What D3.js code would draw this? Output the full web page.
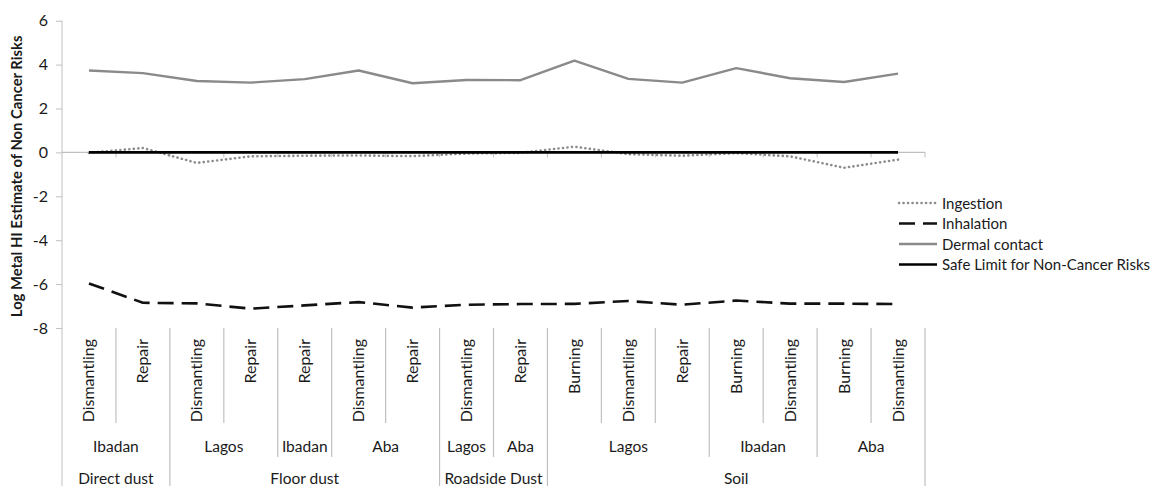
<!DOCTYPE html>
<html>
<head>
<meta charset="utf-8">
<script src="https://cdn.jsdelivr.net/npm/d3@7"></script>
<style>
  html, body { margin: 0; padding: 0; background: #fff; }
  svg { display: block; font-family: Lato, "Open Sans", sans-serif; }
</style>
</head>
<body>
<svg id="chart" width="1150" height="486"></svg>
<script>
// Category hierarchy: medium > city > activity
const activities = ["Dismantling","Repair","Dismantling","Repair","Repair","Dismantling","Repair","Dismantling","Repair","Burning","Dismantling","Repair","Burning","Dismantling","Burning","Dismantling"];
const cities = ["Ibadan","Ibadan","Lagos","Lagos","Ibadan","Aba","Aba","Lagos","Aba","Lagos","Lagos","Lagos","Ibadan","Ibadan","Aba","Aba"];
const media = ["Direct dust","Direct dust","Floor dust","Floor dust","Floor dust","Floor dust","Floor dust","Roadside Dust","Roadside Dust","Soil","Soil","Soil","Soil","Soil","Soil","Soil"];

// Log HI values per exposure route
const ingestion  = [-0.02, 0.20, -0.48, -0.18, -0.15, -0.14, -0.17, -0.05, -0.02, 0.26, -0.08, -0.15, -0.03, -0.18, -0.70, -0.33];
const inhalation = [-5.97, -6.85, -6.88, -7.12, -6.97, -6.82, -7.07, -6.94, -6.91, -6.90, -6.77, -6.94, -6.75, -6.89, -6.89, -6.91];
const dermal     = [3.73, 3.61, 3.25, 3.18, 3.34, 3.73, 3.15, 3.30, 3.29, 4.18, 3.35, 3.18, 3.84, 3.38, 3.21, 3.59];
const safeLimit  = [0, 0, 0, 0, 0, 0, 0, 0, 0, 0, 0, 0, 0, 0, 0, 0];

const yTicks = [6, 4, 2, 0, -2, -4, -6, -8];
const legendLabels = ["Ingestion", "Inhalation", "Dermal contact", "Safe Limit for Non-Cancer Risks"];

const svg = d3.select("#chart");
const plotL = 62, plotR = 925, plotT = 20.7, plotB = 328;
const idx = d3.range(activities.length);

const x = d3.scaleBand().domain(idx).range([plotL, plotR]).paddingInner(0).paddingOuter(0);
const cx = i => x(i) + x.bandwidth() / 2;
const y = d3.scaleLinear().domain([-8, 6]).range([plotB, plotT]);

const axisColor = "#c0c0c0";
const textColor = "#1a1a1a";

// Y axis (plain hyphen for negatives)
const yAxis = d3.axisLeft(y).tickValues(yTicks).tickSize(6).tickPadding(8).tickFormat(d => String(d));
const yg = svg.append("g").attr("transform", `translate(${plotL},0)`).call(yAxis);
yg.select(".domain").remove();
yg.selectAll(".tick line").attr("stroke", axisColor);
yg.selectAll(".tick text").attr("fill", textColor).style("font-size", "16px").style("font-family", "Lato, sans-serif");
// vertical axis line runs through the category label area
svg.append("line").attr("x1", plotL).attr("x2", plotL).attr("y1", plotT).attr("y2", 486)
  .attr("stroke", axisColor).attr("stroke-width", 1);

// Y title
svg.append("text")
  .attr("transform", `translate(22,${(plotT + plotB) / 2 + 2}) rotate(-90)`)
  .attr("text-anchor", "middle")
  .attr("fill", textColor)
  .style("font-weight", "bold").style("font-size", "14.8px")
  .text("Log Metal HI Estimate of Non Cancer Risks");

// Horizontal axis at zero, with tick marks at category boundaries
const y0 = y(0);
svg.append("line").attr("x1", plotL).attr("x2", plotR).attr("y1", y0).attr("y2", y0)
  .attr("stroke", axisColor).attr("stroke-width", 1.2);
svg.selectAll("line.ztick").data(d3.range(1, activities.length + 1)).enter().append("line")
  .attr("class", "ztick")
  .attr("x1", i => i === activities.length ? plotR : x(i))
  .attr("x2", i => i === activities.length ? plotR : x(i))
  .attr("y1", y0).attr("y2", y0 + 5)
  .attr("stroke", axisColor);

// Multi-level category labels
const lvl1Bottom = 423, lvl2Bottom = 457, lvl3Bottom = 486;
d3.range(1, activities.length + 1).forEach(i => {
  const xb = i === activities.length ? plotR : x(i);
  let yb;
  if (i === activities.length || media[i] !== media[i - 1]) yb = lvl3Bottom;
  else if (cities[i] !== cities[i - 1]) yb = lvl2Bottom;
  else yb = lvl1Bottom;
  svg.append("line").attr("x1", xb).attr("x2", xb).attr("y1", plotB).attr("y2", yb)
    .attr("stroke", axisColor).attr("stroke-width", 1.2);
});

svg.selectAll("text.act").data(idx).enter().append("text")
  .attr("class", "act")
  .attr("transform", i => `translate(${cx(i) + 5.5},339) rotate(-90)`)
  .attr("text-anchor", "end")
  .attr("fill", textColor)
  .style("font-size", "16px")
  .text(i => activities[i]);

// group consecutive runs
function runs(keyFn) {
  const out = [];
  idx.forEach(i => {
    const k = keyFn(i);
    const last = out[out.length - 1];
    if (last && last.key === k) last.end = i;
    else out.push({ key: k, start: i, end: i });
  });
  return out;
}
const cityRuns = runs(i => media[i] + "|" + cities[i]);
const mediaRuns = runs(i => media[i]);

svg.selectAll("text.city").data(cityRuns).enter().append("text")
  .attr("class", "city")
  .attr("x", r => (x(r.start) + x(r.end) + x.bandwidth()) / 2)
  .attr("y", 452)
  .attr("text-anchor", "middle")
  .attr("fill", textColor)
  .style("font-size", "15.5px")
  .text(r => r.key.split("|")[1]);

svg.selectAll("text.medium").data(mediaRuns).enter().append("text")
  .attr("class", "medium")
  .attr("x", r => (x(r.start) + x(r.end) + x.bandwidth()) / 2)
  .attr("y", 484)
  .attr("text-anchor", "middle")
  .attr("fill", textColor)
  .style("font-size", "15.5px")
  .text(r => r.key);

// Series
const series = [
  { name: legendLabels[0], values: ingestion,  color: "#8c8c8c", width: 2.6, dash: "0.1,4.4", cap: "round" },
  { name: legendLabels[1], values: inhalation, color: "#111",    width: 2.6, dash: "16,8",    cap: "butt" },
  { name: legendLabels[2], values: dermal,     color: "#8a8a8a", width: 2.4, dash: null,      cap: "butt" },
  { name: legendLabels[3], values: safeLimit,  color: "#000",    width: 2.6, dash: null,      cap: "butt" }
];

const line = d3.line().x((d, i) => cx(i)).y(d => y(d));

series.forEach(s => {
  svg.append("path")
    .datum(s.values)
    .attr("d", line)
    .attr("fill", "none")
    .attr("stroke", s.color)
    .attr("stroke-width", s.width)
    .attr("stroke-dasharray", s.dash)
    .attr("stroke-linecap", s.cap)
    .attr("stroke-linejoin", "round");
});

// Legend
const lg = svg.append("g").attr("transform", "translate(899,203)");
series.forEach((s, k) => {
  const g = lg.append("g").attr("transform", `translate(0,${k * 20.5})`);
  g.append("line").attr("x1", 0).attr("x2", 38).attr("y1", 0).attr("y2", 0)
    .attr("stroke", s.color).attr("stroke-width", s.width)
    .attr("stroke-dasharray", s.dash).attr("stroke-linecap", s.cap);
  g.append("text").attr("x", 43).attr("y", 5.5)
    .attr("fill", textColor).style("font-size", "15px")
    .text(s.name);
});
</script>
</body>
</html>
